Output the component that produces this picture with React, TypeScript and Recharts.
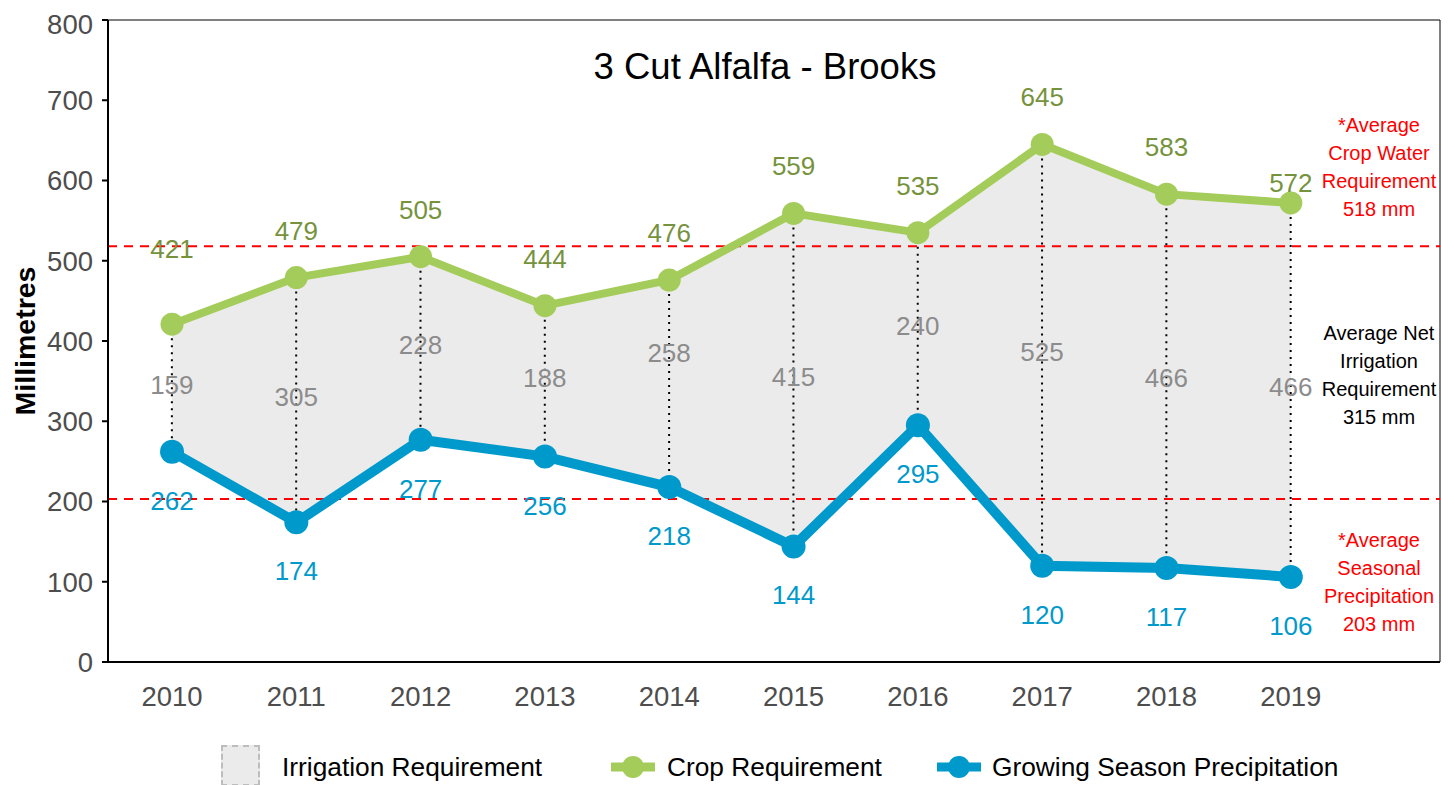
import React from "react";
import {
  ComposedChart, Area, Bar, Line, XAxis, YAxis, ReferenceLine, ReferenceArea, LabelList,
} from "recharts";

// values (mm)
const years = [2010, 2011, 2012, 2013, 2014, 2015, 2016, 2017, 2018, 2019];
const cropRequirement = [421, 479, 505, 444, 476, 559, 535, 645, 583, 572];
const seasonPrecip = [262, 174, 277, 256, 218, 144, 295, 120, 117, 106];
const irrigationRequirement = [159, 305, 228, 188, 258, 415, 240, 525, 466, 466];
const yTicks = [0, 100, 200, 300, 400, 500, 600, 700, 800];
const avgCropWater = 518;
const avgPrecip = 203;
const avgNetIrrigation = 315;

const data = years.map((year, i) => ({
  year,
  crop: cropRequirement[i],
  precip: seasonPrecip[i],
  irrigation: irrigationRequirement[i],
}));

// hand nudges of a few value labels, as in the original
const cropLift: Record<number, number> = { 0: 75, 9: 20 };
const irrNudge: Record<number, number> = { 4: -31 };

const FONT = "'Liberation Sans', Arial, sans-serif";
const GREEN = "#a4cc5a";
const GREEN_TXT = "#76923c";
const BLUE = "#0099cc";
const GREY_TXT = "#8c8c8c";

const cropLabel = (p: any) => (
  <text x={p.x} y={p.y - (cropLift[p.index] ?? 47)} fill={GREEN_TXT} fontSize={26}
    fontFamily={FONT} textAnchor="middle" dominantBaseline="central">{p.value}</text>
);

const precipLabel = (p: any) => (
  <text x={p.x} y={p.y + 49} fill={BLUE} fontSize={26}
    fontFamily={FONT} textAnchor="middle" dominantBaseline="central">{p.value}</text>
);

const irrLabel = (p: any) => (
  <text x={p.x + p.width / 2} y={p.y + p.height / 2 + (irrNudge[p.index] ?? -3)} fill={GREY_TXT}
    fontSize={26} fontFamily={FONT} textAnchor="middle" dominantBaseline="central">
    {irrigationRequirement[p.index]}
  </text>
);

const DottedDrop = (p: any) => {
  const cx = p.x + p.width / 2;
  return (
    <line x1={cx} x2={cx} y1={p.y} y2={p.y + p.height}
      stroke="#000" strokeWidth={2} strokeDasharray="2 5" />
  );
};

function Note({ x, y, lines, color }: { x: number; y: number; lines: string[]; color: string }) {
  return (
    <text fontSize={20} fontFamily={FONT} fill={color} textAnchor="middle">
      {lines.map((l, i) => (
        <tspan key={i} x={x} y={y + i * 28} dominantBaseline="central">{l}</tspan>
      ))}
    </text>
  );
}

const cropNote = ({ viewBox }: any) => (
  <Note x={viewBox.x + viewBox.width - 61} y={viewBox.y - 121} color="#ff0000"
    lines={["*Average", "Crop Water", "Requirement", `${avgCropWater} mm`]} />
);

const precipNote = ({ viewBox }: any) => (
  <g>
    <Note x={viewBox.x + viewBox.width - 61} y={viewBox.y - 166} color="#000"
      lines={["Average Net", "Irrigation", "Requirement", `${avgNetIrrigation} mm`]} />
    <Note x={viewBox.x + viewBox.width - 61} y={viewBox.y + 41} color="#ff0000"
      lines={["*Average", "Seasonal", "Precipitation", `${avgPrecip} mm`]} />
  </g>
);

const yTitle = ({ viewBox }: any) => {
  const cx = 17;
  const cy = viewBox.y + viewBox.height / 2;
  return (
    <text x={cx} y={cy} transform={`rotate(-90 ${cx} ${cy})`} fontSize={28.5} fontWeight="bold"
      fontFamily={FONT} fill="#000" textAnchor="middle" dominantBaseline="central">Millimetres</text>
  );
};

const legendText: React.CSSProperties = { fontSize: 26.3, fontFamily: FONT, color: "#000", whiteSpace: "nowrap" };

function LineIcon({ color }: { color: string }) {
  return (
    <svg width={44} height={24}>
      <line x1={0} x2={44} y1={12} y2={12} stroke={color} strokeWidth={9} />
      <circle cx={22} cy={12} r={11} fill={color} />
    </svg>
  );
}

export default function App() {
  return (
    <div style={{ position: "relative", width: 1440, height: 777, fontFamily: FONT }}>
      <ComposedChart width={1440} height={720} data={data} margin={{ top: 12, right: 8, left: 0, bottom: 12 }}>
        <XAxis
          dataKey="year"
          type="number"
          domain={[2009.485, 2020.2]}
          ticks={years}
          allowDataOverflow
          height={54}
          axisLine={{ stroke: "#000", strokeWidth: 2 }}
          tickLine={false}
          tickMargin={18}
          tick={{ fontSize: 27.5, fill: "#4d4d4d", fontFamily: FONT }}
        />
        <YAxis
          domain={[0, 800]}
          ticks={yTicks}
          width={100}
          axisLine={{ stroke: "#000", strokeWidth: 2 }}
          tickLine={{ stroke: "#000", strokeWidth: 2 }}
          tickSize={6}
          tickMargin={9}
          tick={{ fontSize: 27.5, fill: "#4d4d4d", fontFamily: FONT }}
          label={{ content: yTitle }}
        />
        <ReferenceArea x1={2009.485} x2={2020.2} y1={0} y2={800} fill="none" stroke="#000" strokeWidth={1} ifOverflow="visible" />
        <Area
          type="linear"
          dataKey={(d: any) => [d.precip, d.crop]}
          fill="#ebebeb"
          fillOpacity={1}
          stroke="none"
          isAnimationActive={false}
        />
        <ReferenceLine y={avgCropWater} stroke="#ff0000" strokeWidth={2} strokeDasharray="9 7" label={{ content: cropNote }} />
        <ReferenceLine y={avgPrecip} stroke="#ff0000" strokeWidth={2} strokeDasharray="9 7" label={{ content: precipNote }} />
        <Bar
          dataKey={(d: any) => [d.precip, d.crop]}
          barSize={4}
          shape={DottedDrop}
          isAnimationActive={false}
        >
          <LabelList content={irrLabel} />
        </Bar>
        <Line
          type="linear"
          dataKey="crop"
          stroke={GREEN}
          strokeWidth={8}
          dot={{ r: 11.5, fill: GREEN, stroke: "none" }}
          activeDot={false}
          isAnimationActive={false}
        >
          <LabelList dataKey="crop" content={cropLabel} />
        </Line>
        <Line
          type="linear"
          dataKey="precip"
          stroke={BLUE}
          strokeWidth={10}
          dot={{ r: 12, fill: BLUE, stroke: "none" }}
          activeDot={false}
          isAnimationActive={false}
        >
          <LabelList dataKey="precip" content={precipLabel} />
        </Line>
      </ComposedChart>

      <div style={{ position: "absolute", left: 757, top: 59, transform: "translate(-50%, -50%)", fontSize: 36.5, color: "#000", whiteSpace: "nowrap" }}>
        3 Cut Alfalfa - Brooks
      </div>

      <div style={{ position: "absolute", left: 213, top: 737, width: 39, height: 41, boxSizing: "border-box", background: "#ebebeb", border: "2px dashed #bdbdbd" }} />
      <div style={{ ...legendText, position: "absolute", left: 274, top: 759, transform: "translateY(-50%)" }}>Irrigation Requirement</div>
      <div style={{ position: "absolute", left: 603, top: 747 }}><LineIcon color={GREEN} /></div>
      <div style={{ ...legendText, position: "absolute", left: 659, top: 759, transform: "translateY(-50%)" }}>Crop Requirement</div>
      <div style={{ position: "absolute", left: 929, top: 747 }}><LineIcon color={BLUE} /></div>
      <div style={{ ...legendText, position: "absolute", left: 984, top: 759, transform: "translateY(-50%)" }}>Growing Season Precipitation</div>
    </div>
  );
}
